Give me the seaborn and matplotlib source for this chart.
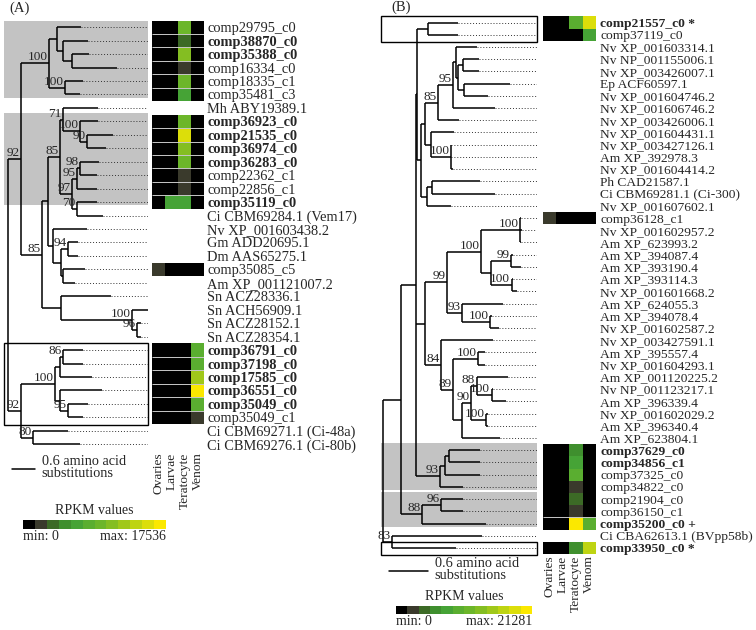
"""
Two maximum-likelihood trees with RPKM expression heatmaps (panels A and B).
Trees are stored as Newick strings (branch lengths in amino acid substitutions),
expression as colour classes 0..11 of the RPKM scale.
"""
import re

import numpy as np
import pandas as pd
import matplotlib

matplotlib.use("Agg")
import matplotlib.pyplot as plt
from matplotlib.colors import ListedColormap
from matplotlib.patches import Rectangle
import seaborn as sns

FIG_W, FIG_H = 756, 630

TISSUES = ["Ovaries", "Larvae", "Teratocyte", "Venom"]

# RPKM colour classes, min -> max
RPKM_COLORS = ["#000000", "#3a3a2c", "#3c6a26", "#3f8f2e", "#46a336", "#5aae30",
               "#6cb62a", "#84be22", "#a0c81a", "#bed412", "#dcde0a", "#fbe800"]
SCALE_LEN = 0.6

# ---------------- panel A ----------------
A_LABELS = [
    "comp29795_c0", "comp38870_c0", "comp35388_c0", "comp16334_c0", "comp18335_c1",
    "comp35481_c3", "Mh ABY19389.1", "comp36923_c0", "comp21535_c0", "comp36974_c0",
    "comp36283_c0", "comp22362_c1", "comp22856_c1", "comp35119_c0",
    "Ci CBM69284.1 (Vem17)", "Nv XP_001603438.2", "Gm ADD20695.1", "Dm AAS65275.1",
    "comp35085_c5", "Am XP_001121007.2", "Sn ACZ28336.1", "Sn ACH56909.1",
    "Sn ACZ28152.1", "Sn ACZ28354.1", "comp36791_c0", "comp37198_c0", "comp17585_c0",
    "comp36551_c0", "comp35049_c0", "comp35049_c1", "Ci CBM69271.1 (Ci-48a)",
    "Ci CBM69276.1 (Ci-80b)",
]
A_BOLD = [2, 3, 8, 9, 10, 11, 14, 25, 26, 27, 28, 29]
A_TREE = (
    "((((1:0.63,(2:0.65,(3:0.44,4:1.17):0.23):0.16):0.21,(5:0.47,6:0.39)100:0.42)100:0.73,"
    "((((7:0.91,(8:0.47,(9:0.68,10:0.50)90:0.18)100:0.44)71:0.08,"
    "(((11:0.50,12:0.44)98:0.08,13:0.52)95:0.13,(14:0.52,15:0.68)70:0.13)97:0.31)85:0.31,"
    "(16:0.89,((17:0.26,18:0.26)94:0.18,(19:0.57,20:0.31):0.05):0.21):0.13):0.16,"
    "(21:1.31,(22:0.42,(23:0.10,24:0.10)96:0.13)100:1.85):0.50)85:0.55)92:0.34,"
    "((((25:0.52,26:0.52)86:0.08,27:0.84):0.13,(28:1.10,(29:0.52,30:0.39)95:0.21):0.13)100:0.89,"
    "(31:0.91,32:1.23)80:0.31)92:0.34);"
)
A_EXPR_ROWS = [1, 2, 3, 4, 5, 6, 8, 9, 10, 11, 12, 13, 14, 19, 25, 26, 27, 28, 29, 30]
A_OVARIES = [0, 0, 0, 0, 0, 0, 0, 0, 0, 0, 0, 0, 0, 1, 0, 0, 0, 0, 0, 0]
A_LARVAE = [0, 0, 0, 0, 0, 0, 0, 0, 0, 0, 0, 0, 4, 0, 0, 0, 0, 0, 0, 0]
A_TERATOCYTE = [6, 2, 7, 1, 6, 4, 6, 10, 7, 6, 1, 1, 4, 0, 0, 0, 0, 0, 0, 0]
A_VENOM = [0, 0, 0, 0, 0, 0, 0, 0, 0, 0, 0, 0, 0, 0, 5, 5, 8, 11, 5, 1]
A_GREY_BOXES = [(1, 6), (8, 14)]
A_OUTLINE_BOXES = [(25, 30)]
A_RPKM_MAX = 17536

# ---------------- panel B ----------------
B_LABELS = [
    "comp21557_c0 *", "comp37119_c0", "Nv XP_001603314.1", "Nv NP_001155006.1",
    "Nv XP_003426007.1", "Ep ACF60597.1", "Nv XP_001604746.2", "Nv XP_001606746.2",
    "Nv XP_003426006.1", "Nv XP_001604431.1", "Nv XP_003427126.1", "Am XP_392978.3",
    "Nv XP_001604414.2", "Ph CAD21587.1", "Ci CBM69281.1 (Ci-300)", "Nv XP_001607602.1",
    "comp36128_c1", "Nv XP_001602957.2", "Am XP_623993.2", "Am XP_394087.4",
    "Am XP_393190.4", "Am XP_393114.3", "Nv XP_001601668.2", "Am XP_624055.3",
    "Am XP_394078.4", "Nv XP_001602587.2", "Nv XP_003427591.1", "Am XP_395557.4",
    "Nv XP_001604293.1", "Am XP_001120225.2", "Nv NP_001123217.1", "Am XP_396339.4",
    "Nv XP_001602029.2", "Am XP_396340.4", "Am XP_623804.1", "comp37629_c0",
    "comp34856_c1", "comp37325_c0", "comp34822_c0", "comp21904_c0", "comp36150_c1",
    "comp35200_c0 +", "Ci CBA62613.1 (BVpp58b)", "comp33950_c0 *",
]
B_BOLD = [1, 36, 37, 42, 44]
B_TREE = (
    "((((((1:0.46,2:0.46):0.17,"
    "(((((3:0.31,((4:0.25,5:0.25):0.08,(6:0.71,7:0.38):0.09):0.02):0.06,8:0.66)95:0.22,"
    "9:0.32)85:0.20,(10:0.35,(11:0,12:0,13:0.02)100:0.31):0.09):0.06,"
    "((14:0.75,15:0.98):0.08,16:0.37):0.08):0.06):0.02,"
    "((((17:0.02,18:0.03,19:0.02)100:0.60,"
    "((20:0.03,21:0.15)99:0.31,(22:0.02,23:0.08)100:0.32):0.15)100:0.52,"
    "(24:0.63,(25:0.02,26:0.14)100:0.43)93:0.23)99:0.34,"
    "(27:0.80,((28:0.11,29:0.11)100:0.38,"
    "((((30:0.49,(31:0.02,32:0.22)100:0.23)88:0.08,(33:0.02,34:0.03)100:0.23)90:0.14,"
    "35:0.58):0.06):0.08)89:0.18)84:0.25):0.14,"
    "(((36:0.49,37:0.49):0.05,38:0.54):0.08,39:0.35)93:0.37):0.23,"
    "((40:0.34,41:0.34)96:0.29,42:0.98)88:0.32):0.28,"
    "(43:1.38,44:0.98)83:0.14);"
)
B_EXPR_ROWS = [1, 2, 17, 36, 37, 38, 39, 40, 41, 42, 44]
B_OVARIES = [0, 0, 1, 0, 0, 0, 0, 0, 0, 0, 0]
B_LARVAE = [0, 0, 0, 0, 0, 0, 0, 0, 0, 0, 0]
B_TERATOCYTE = [5, 0, 0, 3, 4, 5, 1, 2, 1, 11, 3]
B_VENOM = [10, 4, 0, 0, 0, 0, 0, 0, 0, 5, 9]
B_SEPARATORS = [41]
B_GREY_BOXES = [(36, 39), (40, 42)]
B_OUTLINE_BOXES = [(1, 2), (44, 44)]
B_RPKM_MAX = 21281

CMAP = ListedColormap(RPKM_COLORS)


def parse_newick(s):
    pos = 0

    def node():
        nonlocal pos
        children = []
        if s[pos] == "(":
            pos += 1
            while True:
                children.append(node())
                if s[pos] == ",":
                    pos += 1
                else:
                    break
            pos += 1  # closing ')'
        m = re.match(r"([^:,();]*)(?::([0-9.]+))?", s[pos:])
        pos += m.end()
        return {"label": m.group(1), "length": float(m.group(2) or 0), "children": children}

    return node()


def layout(tree):
    """Rectangular layout: x = distance from root, y = leaf row (0.5, 1.5, ...)."""
    hsegs, vsegs, tips, supports = [], [], [], []
    counter = [0]

    def walk(nd, x_parent):
        x = x_parent + nd["length"]
        if not nd["children"]:
            y = counter[0] + 0.5
            counter[0] += 1
            tips.append((x, y))
        else:
            ys = [walk(c, x) for c in nd["children"]]
            y = (ys[0] + ys[-1]) / 2
            vsegs.append((x, ys[0], ys[-1]))
            if nd["label"]:
                supports.append((x, y, nd["label"]))
        hsegs.append((y, x_parent, x))
        return y

    walk(tree, 0.0)
    return hsegs, vsegs, tips, supports


def px_axes(fig, box):
    x0, y0, x1, y1 = box
    return fig.add_axes([x0 / FIG_W, 1 - y1 / FIG_H, (x1 - x0) / FIG_W, (y1 - y0) / FIG_H])


def draw_panel(fig, p):
    n = len(p["labels"])
    hsegs, vsegs, tips, supports = layout(parse_newick(p["newick"]))
    x_lo, x_hi = p["xlim"]

    # --- tree ---
    tax = px_axes(fig, p["tree_box"])
    tax.set_xlim(x_lo, x_hi)
    tax.set_ylim(n, 0)
    tax.axis("off")
    for first, last in p["grey"]:
        tax.add_patch(Rectangle((p["box_left"], first - 1.1), x_hi - p["box_left"],
                                last - first + 0.85, facecolor="#c3c3c3",
                                edgecolor="none", zorder=0))
    for first, last in p["outline"]:
        tax.add_patch(Rectangle((p["box_left"], first - 1.0), x_hi - p["box_left"],
                                last - first + 1.1, facecolor="none",
                                edgecolor="black", lw=1.0, zorder=4, clip_on=False))
    for x, y in tips:
        tax.plot([x, x_hi], [y, y], color="#333333", lw=0.7, ls=(0, (1, 2)), zorder=2)
    tax.hlines([h[0] for h in hsegs], [h[1] for h in hsegs], [h[2] for h in hsegs],
               color="black", lw=1.1, zorder=3)
    tax.vlines([v[0] for v in vsegs], [v[1] for v in vsegs], [v[2] for v in vsegs],
               color="black", lw=1.1, zorder=3)
    for x, y, lab in supports:
        tax.annotate(lab, (x, y), xytext=(-1, 0), textcoords="offset points",
                     ha="right", va="bottom", fontsize=9.5, zorder=5)

    # scale bar
    sx, sy = p["scale_at"]
    tax.plot([sx, sx + SCALE_LEN], [sy, sy], color="black", lw=1.1, clip_on=False)
    tax.annotate("0.6 amino acid\nsubstitutions", (sx + SCALE_LEN, sy), xytext=(5, 1),
                 textcoords="offset points", ha="left", va="center",
                 fontsize=10.3, linespacing=0.9, annotation_clip=False)

    # --- expression heatmap ---
    df = pd.DataFrame(np.nan, index=range(n), columns=TISSUES)
    rows = [r - 1 for r in p["expr_rows"]]
    for col, vals in zip(TISSUES, p["expr"]):
        df.loc[rows, col] = vals
    hax = px_axes(fig, p["heat_box"])
    sns.heatmap(df, ax=hax, cmap=CMAP, vmin=-0.5, vmax=len(RPKM_COLORS) - 0.5,
                cbar=False, xticklabels=TISSUES, yticklabels=p["labels"])
    for r in p["separators"]:
        hax.hlines(r, 0, len(TISSUES), color="#c8c8c8", lw=0.7)
    for sp in hax.spines.values():
        sp.set_visible(False)
    hax.yaxis.tick_right()
    hax.tick_params(axis="y", length=0, pad=p["label_pad"], labelsize=p["label_size"],
                    labelrotation=0)
    hax.tick_params(axis="x", length=0, pad=1, labelsize=9.6, labelrotation=90)
    hax.set_xlabel("")
    hax.set_ylabel("")
    for i, t in enumerate(hax.get_yticklabels()):
        t.set_horizontalalignment("left")
        if i + 1 in p["bold"]:
            t.set_fontweight("bold")

    # --- RPKM legend ---
    cax = px_axes(fig, p["cbar_box"])
    sns.heatmap(np.arange(len(RPKM_COLORS))[None, :], ax=cax, cmap=CMAP,
                vmin=-0.5, vmax=len(RPKM_COLORS) - 0.5, cbar=False,
                xticklabels=False, yticklabels=False)
    cax.annotate("RPKM values", (0.5, 1), xycoords="axes fraction", xytext=(0, 2),
                 textcoords="offset points", ha="center", va="bottom", fontsize=10)
    cax.annotate("min: 0", (0, 0), xycoords="axes fraction", xytext=(0, -1),
                 textcoords="offset points", ha="left", va="top", fontsize=10)
    cax.annotate(f"max: {p['rpkm_max']}", (1, 0), xycoords="axes fraction",
                 xytext=(0, -1), textcoords="offset points", ha="right", va="top",
                 fontsize=10)

    fig.text(p["tag_xy"][0] / FIG_W, 1 - p["tag_xy"][1] / FIG_H, p["tag"],
             ha="left", va="center", fontsize=10.5)


def consecutive_boundaries(rows):
    return [a for a, b in zip(rows[:-1], rows[1:]) if b == a + 1]


def main():
    sns.set_theme(style="white")
    plt.rcParams["font.family"] = ["Liberation Serif", "DejaVu Serif"]

    fig = plt.figure(figsize=(FIG_W / 100, FIG_H / 100), dpi=100)

    panel_a = {
        "labels": A_LABELS, "bold": A_BOLD, "newick": A_TREE,
        "xlim": (-0.21, 3.66), "box_left": -0.10,
        "tree_box": (0, 20.5, 148, 451), "heat_box": (152, 20.5, 204, 451),
        "cbar_box": (23, 520, 166, 529),
        "expr_rows": A_EXPR_ROWS, "expr": [A_OVARIES, A_LARVAE, A_TERATOCYTE, A_VENOM],
        "separators": consecutive_boundaries(A_EXPR_ROWS),
        "grey": A_GREY_BOXES, "outline": A_OUTLINE_BOXES,
        "rpkm_max": A_RPKM_MAX, "label_size": 10.4, "label_pad": 2.2,
        "scale_at": (0.10, 33.35), "tag": "(A)", "tag_xy": (9, 8),
    }
    panel_b = {
        "labels": B_LABELS, "bold": B_BOLD, "newick": B_TREE,
        "xlim": (-0.046, 2.37), "box_left": -0.03,
        "tree_box": (380, 16.4, 537, 554.1), "heat_box": (542.7, 16.4, 596, 554.1),
        "cbar_box": (396, 606, 532, 614),
        "expr_rows": B_EXPR_ROWS, "expr": [B_OVARIES, B_LARVAE, B_TERATOCYTE, B_VENOM],
        "separators": B_SEPARATORS,
        "grey": B_GREY_BOXES, "outline": B_OUTLINE_BOXES,
        "rpkm_max": B_RPKM_MAX, "label_size": 9.7, "label_pad": 3.2,
        "scale_at": (0.09, 45.36), "tag": "(B)", "tag_xy": (391, 7),
    }
    draw_panel(fig, panel_a)
    draw_panel(fig, panel_b)

    fig.savefig("out.png", dpi=100)
    plt.close(fig)


if __name__ == "__main__":
    main()
